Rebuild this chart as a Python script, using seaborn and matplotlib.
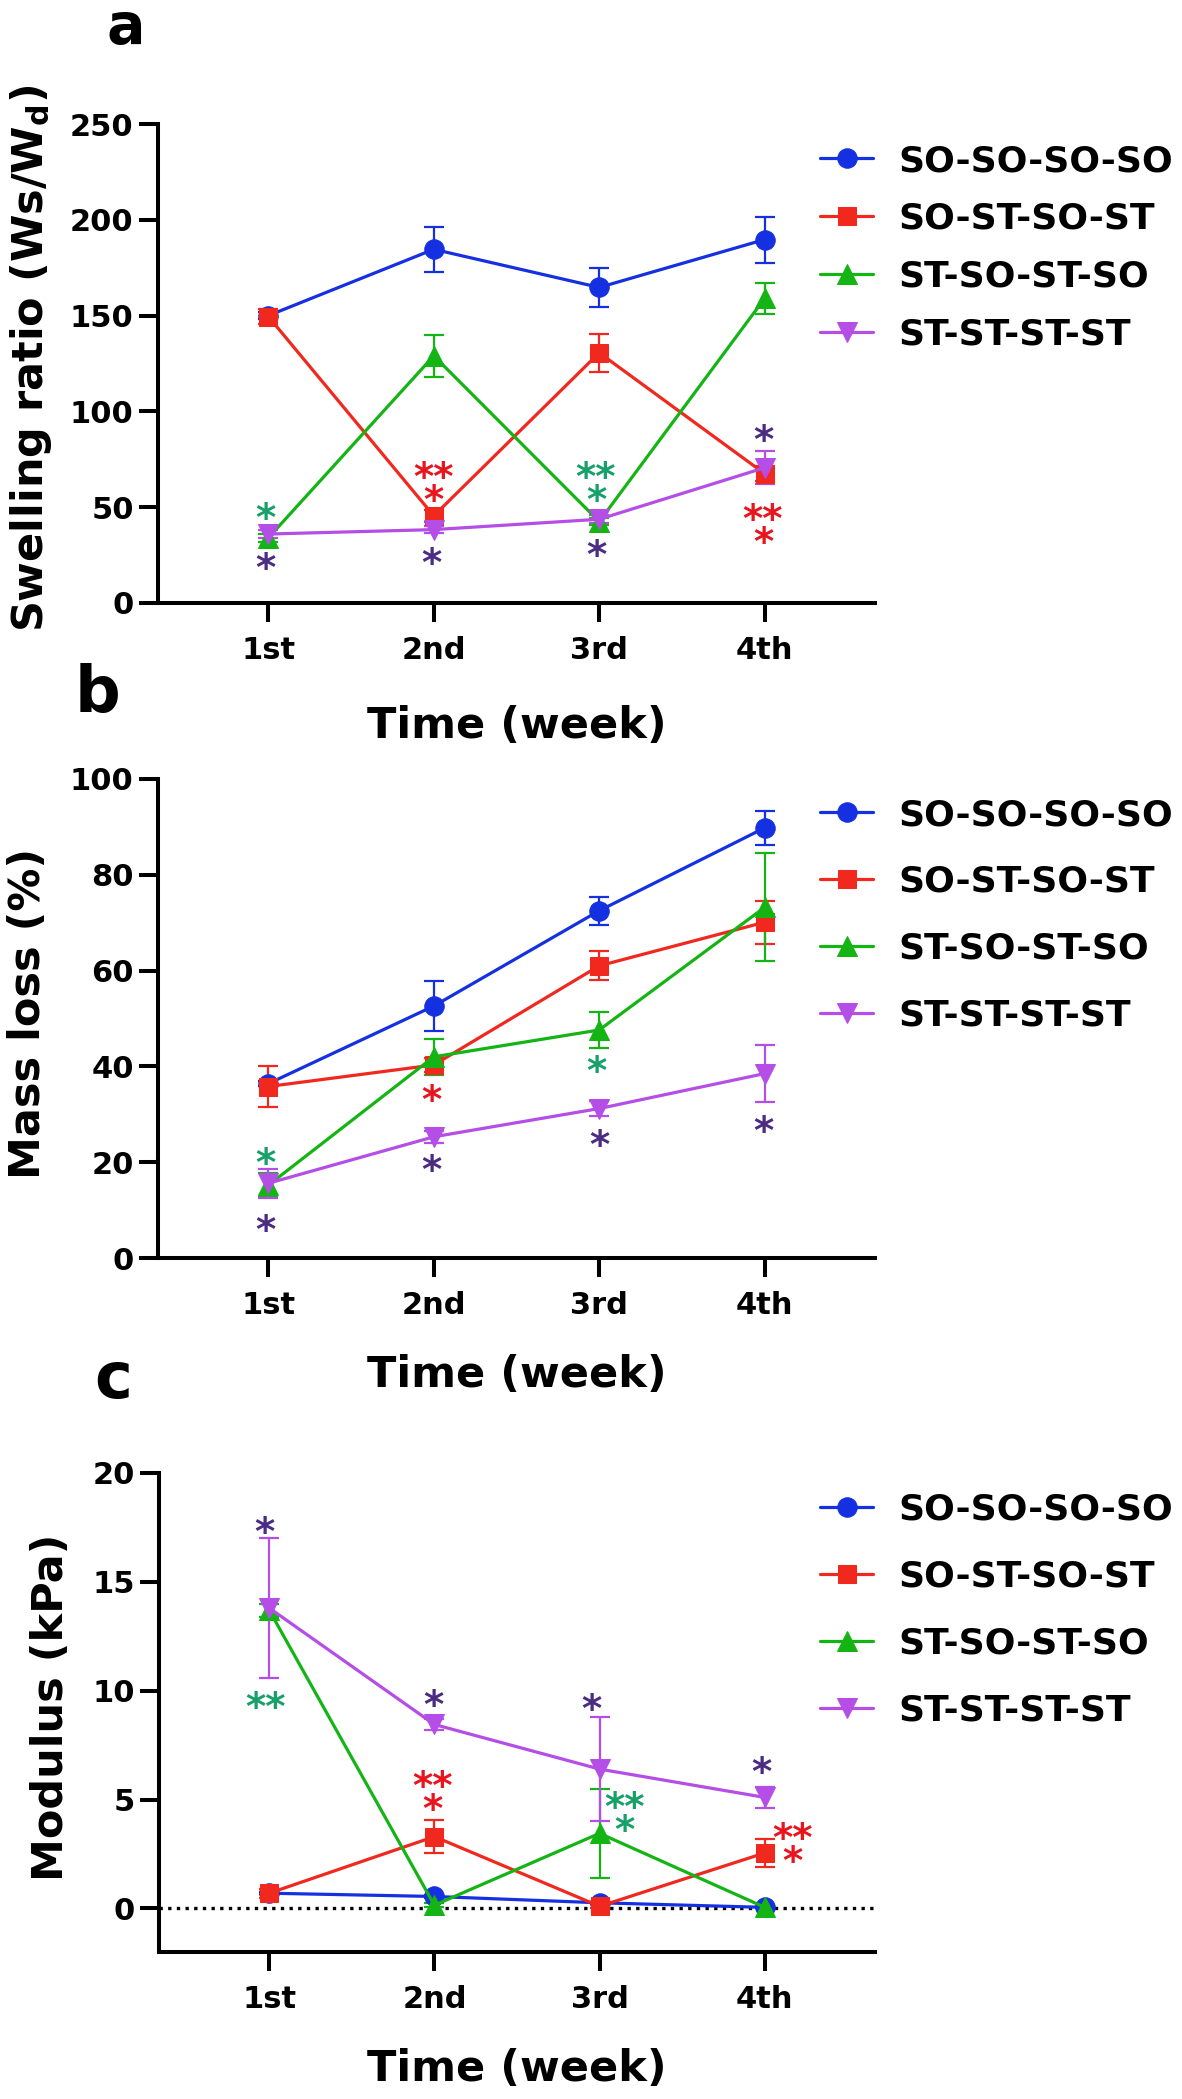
import numpy as np
import pandas as pd
import matplotlib
matplotlib.use("Agg")
import matplotlib.pyplot as plt
import seaborn as sns

# ---- data ----
weeks = ["1st", "2nd", "3rd", "4th"]
groups = ["SO-SO-SO-SO", "SO-ST-SO-ST", "ST-SO-ST-SO", "ST-ST-ST-ST"]

# a: swelling ratio (Ws/Wd)
swell_soso = [150, 184.6, 164.7, 189.7]
swell_soso_err = [2, 11.7, 10.4, 12]
swell_sost = [149.5, 45.5, 130.6, 67.5]
swell_sost_err = [4, 3, 10, 4]
swell_stso = [34, 129, 42.5, 159]
swell_stso_err = [2, 11, 2, 8]
swell_stst = [36, 38.3, 43.7, 70.6]
swell_stst_err = [2, 2, 2, 8.5]

# b: mass loss (%)
mass_soso = [36.4, 52.6, 72.5, 89.8]
mass_soso_err = [0.5, 5.3, 2.9, 3.6]
mass_sost = [35.8, 40.3, 61, 70.1]
mass_sost_err = [4.2, 1.5, 3, 4.5]
mass_stso = [15.2, 42, 47.6, 73.2]
mass_stso_err = [2.5, 3.7, 3.7, 11.3]
mass_stst = [15.6, 25.3, 31.2, 38.5]
mass_stst_err = [3, 1.2, 1.5, 6]

# c: modulus (kPa)
mod_soso = [0.7, 0.55, 0.26, 0.05]
mod_soso_err = [0.05, 0.05, 0.05, 0.05]
mod_sost = [0.7, 3.3, 0.1, 2.55]
mod_sost_err = [0.2, 0.77, 0.1, 0.65]
mod_stso = [13.7, 0.15, 3.45, 0.05]
mod_stso_err = [0.3, 0.1, 2.05, 0.05]
mod_stst = [13.8, 8.45, 6.4, 5.1]
mod_stst_err = [3.2, 0.25, 2.4, 0.5]

# significance marks: (week index, value of the lowest line, text, colour key)
stars_a = [(-0.02, 49.5, "*", "g"), (-0.02, 23.4, "*", "p"),
           (1.0, 59, "**\n*", "r"), (0.985, 26, "*", "p"),
           (1.98, 59, "**\n*", "g"), (1.98, 30, "*", "p"),
           (2.99, 90, "*", "p"), (2.99, 37, "**\n*", "r")]
stars_b = [(-0.015, 21.8, "*", "g"), (-0.015, 7.8, "*", "p"),
           (0.985, 35, "*", "r"), (0.985, 20.3, "*", "p"),
           (1.985, 41, "*", "g"), (2.0, 25.5, "*", "p"),
           (2.99, 28.6, "*", "p")]
stars_c = [(-0.03, 17.75, "*", "p"), (-0.02, 9.7, "**", "g"),
           (0.995, 9.8, "*", "p"), (0.99, 5.0, "**\n*", "r"),
           (1.95, 9.6, "*", "p"), (2.15, 4.05, "**\n*", "g"),
           (2.98, 6.7, "*", "p"), (3.165, 2.6, "**\n*", "r")]

line_colors = ["#1530E0", "#F0281E", "#14B414", "#B54EE6"]
marker_styles = ["o", "s", "^", "v"]
marker_sizes = [14, 13, 14, 14]
star_colors = {"p": "#4A2C82", "r": "#E8141E", "g": "#17A06A"}

sns.set_style("ticks")
plt.rcParams["font.family"] = ["DejaVu Sans"]
plt.rcParams["font.weight"] = "bold"
plt.rcParams["axes.labelweight"] = "bold"
for key in ["text.color", "axes.labelcolor", "xtick.color", "ytick.color", "axes.edgecolor"]:
    plt.rcParams[key] = "black"

W, H = 1182, 2099
fig = plt.figure(figsize=(W / 100, H / 100), dpi=100)


def px_axes(left, top, right, bottom):
    return fig.add_axes([left / W, 1 - bottom / H, (right - left) / W, (bottom - top) / H])


def draw_panel(ax, means, errs, ylim, yticks, ylabel, ylab_x, xlab_y, stars,
               leg_top, leg_space):
    x = np.arange(len(weeks))
    for name, m, e, c, mk, ms in zip(groups, means, errs, line_colors,
                                      marker_styles, marker_sizes):
        df = pd.DataFrame({"week": x, "value": m})
        ax.errorbar(x, m, yerr=e, fmt="none", ecolor=c, elinewidth=1.6,
                    capsize=7.5, capthick=1.6, zorder=2)
        sns.lineplot(data=df, x="week", y="value", color=c, marker=mk,
                     markersize=ms, markeredgecolor=c, linewidth=2.3,
                     errorbar=None, label=name, ax=ax, zorder=3)
    # the last line's baseline goes a bit below the value so its glyph centres on it
    for sx, sy, txt, ck in stars:
        ax.annotate(txt, (sx, sy), xytext=(0, -0.58 * 28), textcoords="offset points",
                    ha="center", va="baseline", fontsize=28, fontweight="bold",
                    linespacing=0.5, multialignment="center",
                    color=star_colors[ck], zorder=5)
    ax.set_xlim(-0.667, 3.667)
    ax.set_xticks(x)
    ax.set_xticklabels(weeks)
    ax.set_ylim(*ylim)
    ax.set_yticks(yticks)
    sns.despine(ax=ax)
    for s in ["left", "bottom"]:
        ax.spines[s].set_linewidth(2.9)
    ax.tick_params(axis="both", length=14, width=2.9, labelsize=22)
    ax.tick_params(axis="x", pad=10)
    ax.tick_params(axis="y", pad=3.5)
    ax.set_xlabel("Time (week)", fontsize=31, fontweight="bold")
    ax.set_ylabel(ylabel, fontsize=31, fontweight="bold")
    ax.xaxis.set_label_coords(0.5, xlab_y)
    ax.yaxis.set_label_coords(ylab_x, 0.51)
    handles, labels = ax.get_legend_handles_labels()
    ax.legend(handles, labels, loc="upper left",
              bbox_to_anchor=(820 / W, 1 - leg_top / H), bbox_transform=fig.transFigure,
              frameon=False, borderpad=0, borderaxespad=0, handlelength=1.47,
              handletextpad=0.7, labelspacing=leg_space,
              prop={"size": 26, "weight": "bold"})


ax_a = px_axes(158, 124, 875, 603)
draw_panel(ax_a,
           [swell_soso, swell_sost, swell_stso, swell_stst],
           [swell_soso_err, swell_sost_err, swell_stso_err, swell_stst_err],
           (0, 250), [0, 50, 100, 150, 200, 250],
           r"Swelling ratio (Ws/W$_{\mathbf{d}}$)", -0.145, -0.213, stars_a, 144, 0.66)

ax_b = px_axes(158, 779, 875, 1258)
draw_panel(ax_b,
           [mass_soso, mass_sost, mass_stso, mass_stst],
           [mass_soso_err, mass_sost_err, mass_stso_err, mass_stst_err],
           (0, 100), [0, 20, 40, 60, 80, 100],
           "Mass loss (%)", -0.152, -0.2, stars_b, 798, 0.91)

ax_c = px_axes(159, 1473, 875, 1952)
ax_c.axhline(0, color="black", linestyle=(0, (1, 1.6)), linewidth=2.4, zorder=1)
draw_panel(ax_c,
           [mod_soso, mod_sost, mod_stso, mod_stst],
           [mod_soso_err, mod_sost_err, mod_stso_err, mod_stst_err],
           (-2, 20), [0, 5, 10, 15, 20],
           "Modulus (kPa)", -0.1215, -0.2, stars_c, 1493, 0.91)

# panel letters
for letter, lx, ly, fs in [("a", 126, 44, 41), ("b", 98, 712, 46), ("c", 113, 1398, 46)]:
    fig.text(lx / W, 1 - ly / H, letter, fontsize=fs, fontweight="bold",
             ha="center", va="baseline")

fig.savefig("out.png", dpi=100)
